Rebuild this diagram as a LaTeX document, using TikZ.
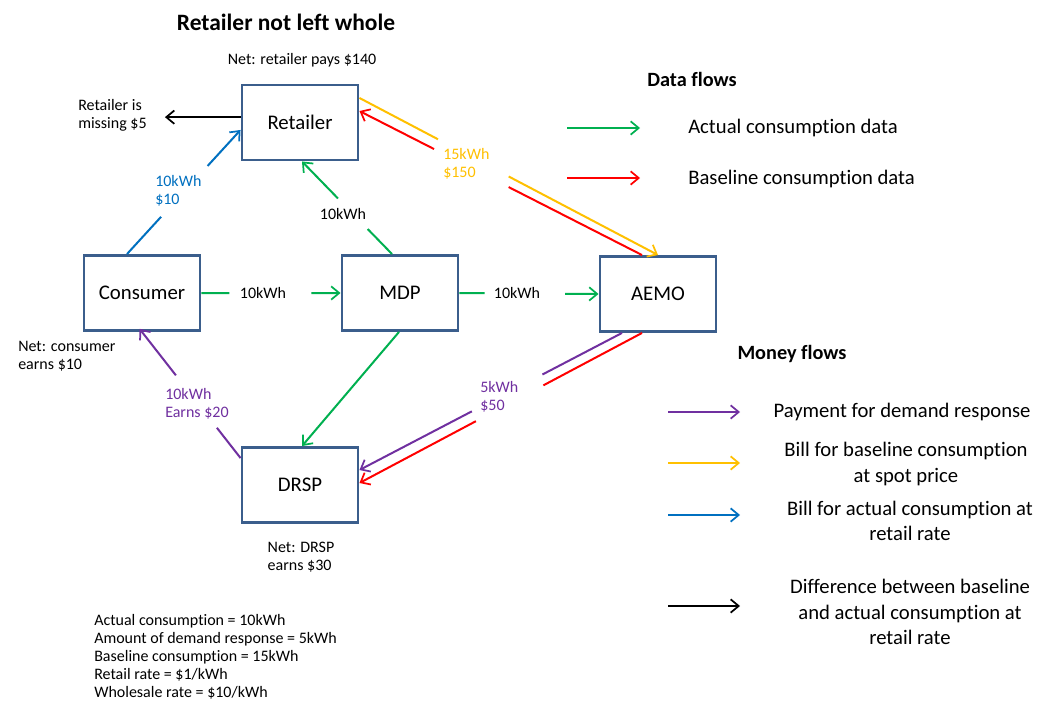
\documentclass[tikz,border=0pt]{standalone}
\usepackage{fontspec}
\setmainfont{Carlito}[Ligatures=NoCommon]
\usetikzlibrary{arrows.meta,calc}
\definecolor{boxc}{HTML}{3B5E8C}
\definecolor{gr}{HTML}{00B050}
\definecolor{rd}{HTML}{FF0000}
\definecolor{yl}{HTML}{FFC000}
\definecolor{bl}{HTML}{0070C0}
\definecolor{pu}{HTML}{7030A0}
\tikzset{
  ent/.style={draw=boxc,line width=2.2pt,minimum width=87pt,minimum height=56.25pt,font=\fontsize{15.6}{18}\selectfont,inner sep=0pt},
  flow/.style={line width=1.5pt,arrows={-Straight Barb[length=6pt,width=10pt,line width=1.3pt]}},
  seg/.style={line width=1.5pt},
  lbl/.style={font=\fontsize{12}{13.6}\selectfont,inner sep=0pt,align=left},
  leg/.style={font=\fontsize{15.5}{19}\selectfont,inner sep=0pt,align=center},
  hdr/.style={font=\fontsize{15.2}{17}\selectfont\bfseries,inner sep=0pt}
}
\begin{document}
\begin{tikzpicture}[x=0.75pt,y=-0.75pt]
\path[use as bounding box,fill=white] (0,0) rectangle (1044,706);

% entities
\node[ent] (ret)  at (300,122.5) {Retailer};
\node[ent] (cons) at (142,293) {Consumer};
\node[ent] (mdp)  at (400,293) {MDP};
\node[ent] (aemo) at (658,294) {AEMO};
\node[ent] (drsp) at (300,485) {DRSP};

% texts
\node[font=\fontsize{17.6}{20}\selectfont\bfseries,inner sep=0pt] (title) at (286,22) {Retailer not left whole};
\node[lbl] (netret) at (302,60) {Net: retailer pays \$140};
\node[lbl,anchor=west] (miss) at (78,115) {Retailer is\\missing \$5};
\node[lbl,anchor=west] (netcons) at (18,356) {Net: consumer\\earns \$10};
\node[lbl] (netdrsp) at (301,557) {Net: DRSP\\earns \$30};
\node[lbl,anchor=north west,font=\fontsize{12}{13.5}\selectfont] (facts) at (94,614) {Actual consumption = 10kWh\\Amount of demand response = 5kWh\\Baseline consumption = 15kWh\\Retail rate = \$1/kWh\\Wholesale rate = \$10/kWh};

% anchors for connectors
\coordinate (b1) at ([xshift=-11.25pt]cons.north);
\coordinate (b2) at ([yshift=-5.6pt]ret.west);
\coordinate (gm1) at ([xshift=-6pt]mdp.north);
\coordinate (gm2) at ([xshift=1.5pt]ret.south);
\coordinate (p1) at ([yshift=-9pt]drsp.north west);
\coordinate (p2) at (cons.south);
\coordinate (pa1) at ([xshift=-27pt]aemo.south);
\coordinate (pa2) at ([yshift=11.25pt]drsp.east);
\coordinate (ra1) at ([xshift=-12pt]aemo.south);
\coordinate (ra2) at ([yshift=1.5pt]drsp.east);
\coordinate (y1) at ([yshift=18.4pt]ret.east);
\coordinate (y2) at (aemo.north);
\coordinate (r1) at ([xshift=-12pt]aemo.north);
\coordinate (r2) at ([yshift=8.6pt]ret.east);

% black: retailer missing
\draw[flow,black,shorten >=13.5pt] ([yshift=4pt]ret.west) -- ([yshift=4pt]ret.west -| miss.east);

% blue: consumer -> retailer
\draw[seg,bl] (b1) -- ($(b1)!0.30!(b2)$);
\draw[flow,bl] ($(b1)!0.71!(b2)$) -- (b2);
\node[lbl,anchor=west,text=bl] (lb) at (155,191) {10kWh\\\$10};

% green: mdp -> retailer
\draw[seg,gr] (gm1) -- ($(gm1)!0.27!(gm2)$);
\draw[flow,gr] ($(gm1)!0.60!(gm2)$) -- (gm2);
\node[lbl] (lg1) at (343,214) {10kWh};

% green: consumer -> mdp
\draw[seg,gr] (cons.east) -- ($(cons.east)!0.2!(mdp.west)$);
\draw[flow,gr] ($(cons.east)!0.79!(mdp.west)$) -- (mdp.west);
\node[lbl] (lg2) at (263,293) {10kWh};

% green: mdp -> aemo
\draw[seg,gr] (mdp.east) -- ($(mdp.east)!0.18!(aemo.west)$);
\draw[flow,gr] ($(mdp.east)!0.76!(aemo.west)$) -- (aemo.west);
\node[lbl] (lg3) at (517,293) {10kWh};

% green: mdp -> drsp
\draw[flow,gr] ([xshift=-0.75pt]mdp.south) -- ([xshift=1.5pt]drsp.north);

% purple: drsp -> consumer
\draw[seg,pu] (p1) -- ($(p1)!0.24!(p2)$);
\draw[flow,pu,shorten >=-3pt] ($(p1)!0.656!(p2)$) -- (p2);
\node[lbl,anchor=west,text=pu] (lp1) at (165,404) {10kWh\\Earns \$20};

% purple: aemo -> drsp
\draw[seg,pu] (pa1) -- ($(pa1)!0.303!(pa2)$);
\draw[flow,pu] ($(pa1)!0.572!(pa2)$) -- (pa2);
\node[lbl,anchor=west,text=pu] (lp2) at (480,397) {5kWh\\\$50};

% red: aemo -> drsp
\draw[seg,rd] (ra1) -- ($(ra1)!0.349!(ra2)$);
\draw[flow,rd] ($(ra1)!0.588!(ra2)$) -- (ra2);

% yellow: retailer -> aemo
\draw[seg,yl] (y1) -- ($(y1)!0.263!(y2)$);
\draw[flow,yl] ($(y1)!0.50!(y2)$) -- (y2);
\node[lbl,anchor=west,text=yl] (ly) at (443,164) {15kWh\\\$150};

% red: aemo -> retailer
\draw[seg,rd] (r1) -- ($(r1)!0.472!(r2)$);
\draw[flow,rd] ($(r1)!0.736!(r2)$) -- (r2);

% legend: data flows
\node[hdr] (hdata) at (692,79) {Data flows};
\coordinate (dg1) at (567,128); \coordinate (dg2) at (640,128);
\coordinate (dr1) at (567,178); \coordinate (dr2) at (640,178);
\draw[flow,gr] (dg1) -- (dg2);
\draw[flow,rd] (dr1) -- (dr2);
\node[leg,anchor=west] (tact) at (688,128) {Actual consumption data};
\node[leg,anchor=west] (tbase) at (688,179) {Baseline consumption data};

% legend: money flows
\node[hdr] (hmoney) at (792,354) {Money flows};
\coordinate (mp1) at (668,412); \coordinate (mp2) at (740,412);
\coordinate (my1) at (668,463); \coordinate (my2) at (740,463);
\coordinate (mb1) at (668,515); \coordinate (mb2) at (740,515);
\coordinate (mk1) at (668,606); \coordinate (mk2) at (740,606);
\draw[flow,pu] (mp1) -- (mp2);
\draw[flow,yl] (my1) -- (my2);
\draw[flow,bl] (mb1) -- (mb2);
\draw[flow,black] (mk1) -- (mk2);
\node[leg] (tpay) at (902,412) {Payment for demand response};
\node[leg] (tspot) at (906,464) {Bill for baseline consumption\\at spot price};
\node[leg] (tretail) at (910,521) {Bill for actual consumption at\\retail rate};
\node[leg] (tdiff) at (910,612) {Difference between baseline\\and actual consumption at\\retail rate};
\end{tikzpicture}
\end{document}
